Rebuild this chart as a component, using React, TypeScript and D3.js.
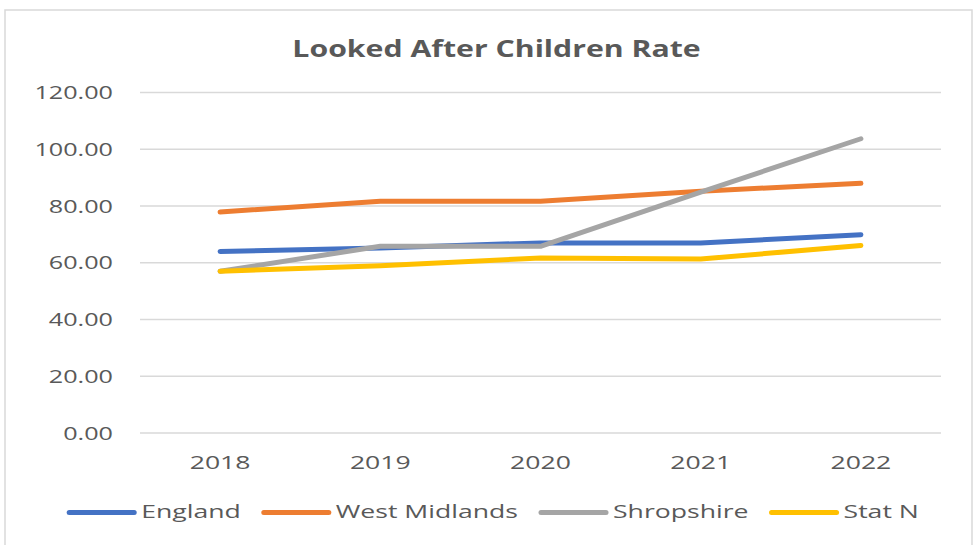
import { useRef, useEffect } from 'react';
import * as d3 from 'd3';

const years = ['2018', '2019', '2020', '2021', '2022'];
const england = [64.0, 65.2, 67.0, 67.0, 69.9];
const westMidlands = [77.9, 81.7, 81.7, 85.2, 88.0];
const shropshire = [57.0, 65.8, 65.8, 84.9, 103.7];
const statN = [57.0, 58.9, 61.7, 61.3, 66.1];
const seriesNames = ['England', 'West Midlands', 'Shropshire', 'Stat N'];
const seriesColors = ['#4472C4', '#ED7D31', '#A5A5A5', '#FFC000'];
const yTicks = [0, 20, 40, 60, 80, 100, 120];

export default function App() {
  const svgRef = useRef<SVGSVGElement>(null);

  const width = 977;
  const height = 545;
  const plot = { left: 140, right: 941, top: 92.5, bottom: 433 };
  const sx = 1.4; // the reference text is stretched sideways
  const font = '"Open Sans", sans-serif';
  const textColor = '#595959';

  useEffect(() => {
    const svg = d3.select(svgRef.current);
    svg.selectAll('*').remove();

    const xScale = d3.scaleBand().domain(years).range([plot.left, plot.right]);
    const yScale = d3.scaleLinear().domain([0, 120]).range([plot.bottom, plot.top]);

    // chart frame
    svg.append('rect')
      .attr('x', 5).attr('y', 10)
      .attr('width', 967).attr('height', 560)
      .attr('fill', '#fff')
      .attr('stroke', '#D9D9D9')
      .attr('stroke-width', 1.5);

    const addText = (x: number, y: number, txt: string, anchor: string, size: number, weight = 'normal', stretch = sx) => {
      const g = svg.append('g').attr('transform', `translate(${x},${y}) scale(${stretch},1)`);
      return g.append('text')
        .attr('text-anchor', anchor)
        .attr('font-family', font)
        .attr('font-size', size)
        .attr('font-weight', weight)
        .attr('fill', textColor)
        .text(txt);
    };

    // title
    addText(496.5, 56.5, 'Looked After Children Rate', 'middle', 24, 'bold', 1.26);

    // gridlines + y labels
    yTicks.forEach(t => {
      svg.append('line')
        .attr('x1', plot.left).attr('x2', plot.right)
        .attr('y1', yScale(t)).attr('y2', yScale(t))
        .attr('stroke', '#D9D9D9')
        .attr('stroke-width', 1.5);
      addText(113, yScale(t) + 6.5, d3.format('.2f')(t), 'end', 18);
    });

    // x labels
    years.forEach(y => {
      addText(xScale(y)! + xScale.bandwidth() / 2, 469, y, 'middle', 19);
    });

    // lines
    const allSeries = [england, westMidlands, shropshire, statN];
    const line = d3.line<number>()
      .x((_, i) => xScale(years[i])! + xScale.bandwidth() / 2)
      .y(d => yScale(d));

    allSeries.forEach((s, i) => {
      svg.append('path')
        .datum(s)
        .attr('d', line)
        .attr('fill', 'none')
        .attr('stroke', seriesColors[i])
        .attr('stroke-width', 5)
        .attr('stroke-linecap', 'round')
        .attr('stroke-linejoin', 'round');
    });

    // legend
    const legend = svg.append('g');
    const lineLen = 69;
    const gapAfterLine = 5;
    const gapAfterText = 21;
    let cursor = 0;
    seriesNames.forEach((name, i) => {
      legend.append('line')
        .attr('x1', cursor + 2).attr('x2', cursor + lineLen - 2)
        .attr('y1', 512.5).attr('y2', 512.5)
        .attr('stroke', seriesColors[i])
        .attr('stroke-width', 5)
        .attr('stroke-linecap', 'round');
      const tg = legend.append('g')
        .attr('transform', `translate(${cursor + lineLen + gapAfterLine},518) scale(${sx},1)`);
      const t = tg.append('text')
        .attr('font-family', font)
        .attr('font-size', 19)
        .attr('fill', textColor)
        .text(name);
      const w = (t.node() as SVGTextElement).getComputedTextLength() * sx;
      cursor += lineLen + gapAfterLine + w + gapAfterText;
    });
    const total = cursor - gapAfterText;
    legend.attr('transform', `translate(${493 - total / 2},0)`);
  }, []);

  return (
    <svg
      ref={svgRef}
      width={width}
      height={height}
      style={{ position: 'absolute', left: 0, top: 0, background: '#fff' }}
    />
  );
}
